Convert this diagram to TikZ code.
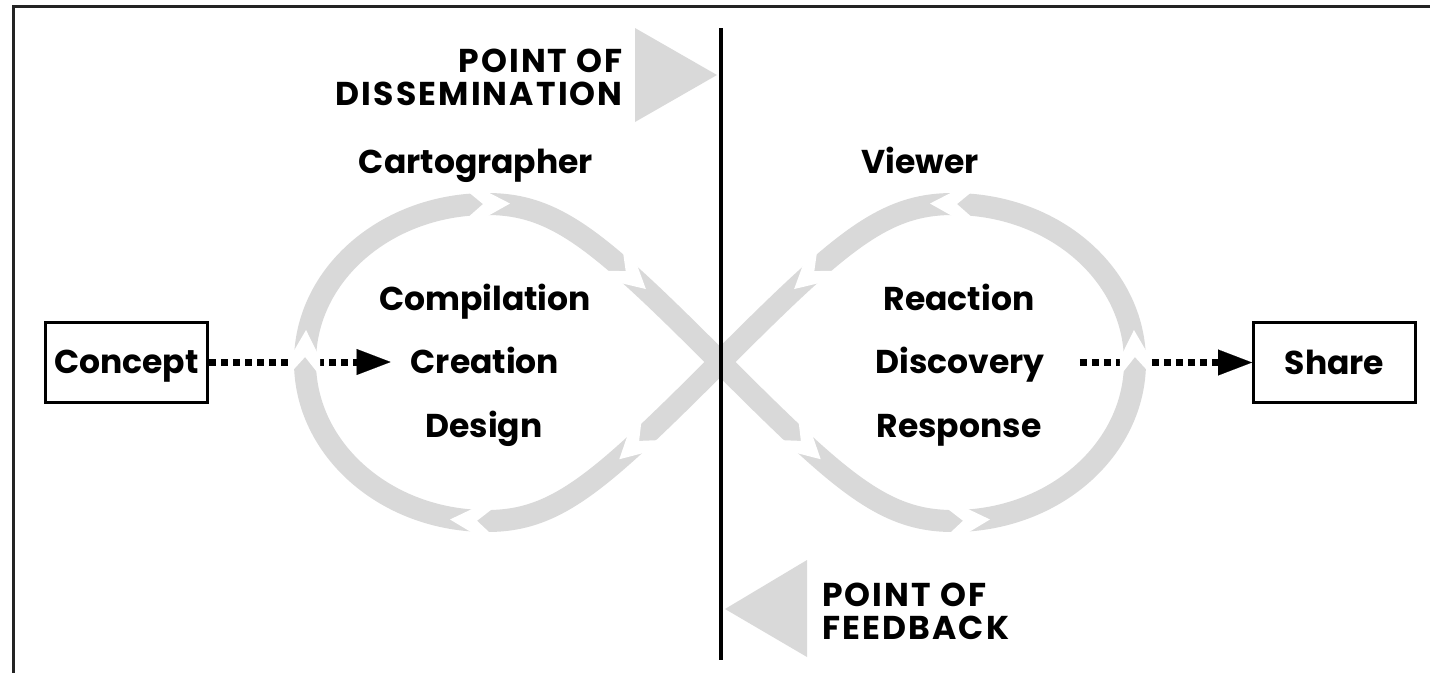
\documentclass[tikz,border=0pt]{standalone}
\usepackage{fontspec}
\setmainfont{Poppins}
\usetikzlibrary{arrows.meta,decorations.markings}

\definecolor{loopgray}{RGB}{217,217,217}
\definecolor{framegray}{RGB}{35,35,35}

% white chevron cut between two pieces of the loop
\newcommand{\gapcut}{\fill[white] (-17,-14.5) -- (0,0) -- (-17,14.5) -- (0,14.5) -- (27,0) -- (0,-14.5) -- cycle;}

\tikzset{
  lbl/.style={font=\fontsize{33}{33}\selectfont\bfseries, inner sep=0pt},
  caplbl/.style={lbl, font=\fontsize{33}{33}\selectfont\bfseries\addfontfeature{LetterSpace=6.5}},
  termbox/.style={lbl, draw, line width=3pt, minimum width=162pt, minimum height=80pt, text height=23pt, text depth=0pt},
  dotarrow/.style={line width=7pt, dash pattern=on 7pt off 5pt, -{Triangle[length=34pt,width=26pt,line width=0.1pt]}},
  band/.style={loopgray, line width=22pt, line join=round},
  halo/.style={white, line width=30pt, line join=round},
  gaps/.style={decorate, decoration={markings, #1}},
}

\begin{document}
\begin{tikzpicture}[x=1pt,y=-1pt]
\useasboundingbox (0,0) rectangle (1430,673);

% frame
\draw[framegray, line width=3pt] (12,6.5) -- (1430,6.5);
\draw[framegray, line width=3.5pt] (13.5,5) -- (13.5,673);

% labels
\node[lbl, anchor=base] (cartographer) at (476,173) {Cartographer};
\node[lbl, anchor=base] (viewer) at (920,173) {Viewer};

\node[lbl, anchor=base] (compilation) at (485,310) {Compilation};
\node[lbl, anchor=base] (creation) at (485,373) {Creation};
\node[lbl, anchor=base] (design) at (484,437) {Design};

\node[lbl, anchor=base] (reaction) at (959,310) {Reaction};
\node[lbl, anchor=base] (discovery) at (960,373) {Discovery};
\node[lbl, anchor=base] (response) at (959,437) {Response};

\node[termbox] (concept) at (126.5,362) {Concept};
\node[termbox] (share) at (1334.5,362.5) {Share};

% dotted connectors
\draw[dotarrow, shorten >=20pt] (concept.east) -- (concept.east -| creation.west);
\draw[dotarrow, shorten <=35pt] (share.west -| discovery.east) -- (share.west);

% figure-eight loop
\coordinate (X) at (720,362);
\coordinate (LB) at (487,521);
\coordinate (LL) at (305,362);
\coordinate (LT) at (487,204);
\coordinate (RB) at (953,521);
\coordinate (RR) at (1135,362);
\coordinate (RT) at (953,204);

\draw[halo] (X) .. controls (600,482) and (557,521) .. (LB)
  .. controls (386.5,521) and (305,449.8) .. (LL)
  .. controls (305,274.2) and (386.5,204) .. (LT)
  .. controls (557,204) and (600,242) .. (X)
  .. controls (840,482) and (883,521) .. (RB)
  .. controls (1053.5,521) and (1135,449.8) .. (RR)
  .. controls (1135,274.2) and (1053.5,204) .. (RT)
  .. controls (883,204) and (840,242) .. (X) -- cycle;
\draw[band] (X) .. controls (600,482) and (557,521) .. (LB)
  .. controls (386.5,521) and (305,449.8) .. (LL)
  .. controls (305,274.2) and (386.5,204) .. (LT)
  .. controls (557,204) and (600,242) .. (X)
  .. controls (840,482) and (883,521) .. (RB)
  .. controls (1053.5,521) and (1135,449.8) .. (RR)
  .. controls (1135,274.2) and (1053.5,204) .. (RT)
  .. controls (883,204) and (840,242) .. (X) -- cycle;

\path[gaps={mark=at position 113pt with {\gapcut}}] (X) .. controls (600,482) and (557,521) .. (LB);
\path[gaps={mark=at position 10pt with {\gapcut}}] (LB) .. controls (386.5,521) and (305,449.8) .. (LL);
\path[gaps={mark=at position 5pt with {\gapcut}, mark=at position -4pt with {\gapcut}}] (LL) .. controls (305,274.2) and (386.5,204) .. (LT);
\path[gaps={mark=at position -131pt with {\gapcut}}] (LT) .. controls (557,204) and (600,242) .. (X);
\path[gaps={mark=at position 113pt with {\gapcut}}] (X) .. controls (840,482) and (883,521) .. (RB);
\path[gaps={mark=at position 10pt with {\gapcut}}] (RB) .. controls (1053.5,521) and (1135,449.8) .. (RR);
\path[gaps={mark=at position 5pt with {\gapcut}, mark=at position -4pt with {\gapcut}}] (RR) .. controls (1135,274.2) and (1053.5,204) .. (RT);
\path[gaps={mark=at position -131pt with {\gapcut}}] (RT) .. controls (883,204) and (840,242) .. (X);

% divider and pointers
\draw[line width=4pt] (721,28) -- (721,660);
\fill[loopgray] (635,28) -- (717,75) -- (635,122) -- cycle;
\fill[loopgray] (807,560) -- (725,609) -- (807,657) -- cycle;

\node[caplbl, align=right, anchor=south east] (dissem) at (623,106) {POINT OF\\DISSEMINATION};
\node[caplbl, align=left, anchor=south west] (feedback) at (822,640) {POINT OF\\FEEDBACK};

\end{tikzpicture}
\end{document}
